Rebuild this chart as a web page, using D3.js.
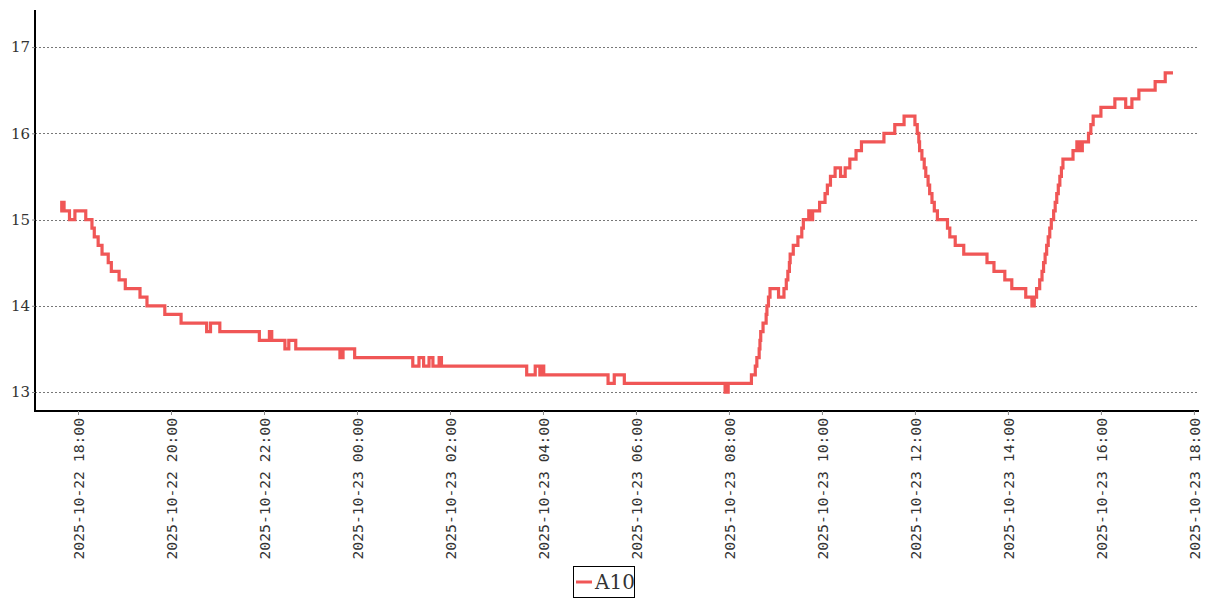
<!DOCTYPE html>
<html><head><meta charset="utf-8">
<script src="https://cdn.jsdelivr.net/npm/d3@7"></script>
<style>body{margin:0;background:#fff}svg{display:block}</style>
</head><body><svg id="c" width="1207" height="600"></svg>
<script>
const seriesName = "A10";
const times = ["2025-10-22 17:37","2025-10-22 17:39","2025-10-22 17:42","2025-10-22 17:49","2025-10-22 17:56","2025-10-22 18:10","2025-10-22 18:18","2025-10-22 18:21","2025-10-22 18:26","2025-10-22 18:31","2025-10-22 18:39","2025-10-22 18:43","2025-10-22 18:53","2025-10-22 19:01","2025-10-22 19:20","2025-10-22 19:29","2025-10-22 19:52","2025-10-22 20:13","2025-10-22 20:46","2025-10-22 20:51","2025-10-22 21:03","2025-10-22 21:54","2025-10-22 22:07","2025-10-22 22:10","2025-10-22 22:27","2025-10-22 22:32","2025-10-22 22:41","2025-10-22 23:38","2025-10-22 23:42","2025-10-22 23:57","2025-10-23 01:12","2025-10-23 01:20","2025-10-23 01:26","2025-10-23 01:33","2025-10-23 01:38","2025-10-23 01:46","2025-10-23 01:49","2025-10-23 03:39","2025-10-23 03:50","2025-10-23 03:56","2025-10-23 03:59","2025-10-23 04:01","2025-10-23 05:24","2025-10-23 05:32","2025-10-23 05:45","2025-10-23 07:55","2025-10-23 07:59","2025-10-23 08:29","2025-10-23 08:34","2025-10-23 08:36","2025-10-23 08:39","2025-10-23 08:40","2025-10-23 08:41","2025-10-23 08:44","2025-10-23 08:48","2025-10-23 08:49","2025-10-23 08:51","2025-10-23 08:53","2025-10-23 09:04","2025-10-23 09:11","2025-10-23 09:14","2025-10-23 09:16","2025-10-23 09:18","2025-10-23 09:19","2025-10-23 09:23","2025-10-23 09:29","2025-10-23 09:34","2025-10-23 09:36","2025-10-23 09:43","2025-10-23 09:45","2025-10-23 09:48","2025-10-23 09:57","2025-10-23 10:04","2025-10-23 10:07","2025-10-23 10:11","2025-10-23 10:17","2025-10-23 10:24","2025-10-23 10:30","2025-10-23 10:36","2025-10-23 10:44","2025-10-23 10:51","2025-10-23 11:20","2025-10-23 11:34","2025-10-23 11:46","2025-10-23 12:00","2025-10-23 12:03","2025-10-23 12:05","2025-10-23 12:06","2025-10-23 12:09","2025-10-23 12:12","2025-10-23 12:14","2025-10-23 12:17","2025-10-23 12:19","2025-10-23 12:22","2025-10-23 12:25","2025-10-23 12:29","2025-10-23 12:42","2025-10-23 12:45","2025-10-23 12:52","2025-10-23 13:03","2025-10-23 13:33","2025-10-23 13:42","2025-10-23 13:56","2025-10-23 14:05","2025-10-23 14:23","2025-10-23 14:31","2025-10-23 14:34","2025-10-23 14:37","2025-10-23 14:41","2025-10-23 14:44","2025-10-23 14:46","2025-10-23 14:48","2025-10-23 14:50","2025-10-23 14:52","2025-10-23 14:54","2025-10-23 14:56","2025-10-23 14:59","2025-10-23 15:01","2025-10-23 15:03","2025-10-23 15:05","2025-10-23 15:07","2025-10-23 15:09","2025-10-23 15:11","2025-10-23 15:24","2025-10-23 15:29","2025-10-23 15:32","2025-10-23 15:36","2025-10-23 15:44","2025-10-23 15:47","2025-10-23 15:50","2025-10-23 16:00","2025-10-23 16:18","2025-10-23 16:32","2025-10-23 16:40","2025-10-23 16:49","2025-10-23 17:10","2025-10-23 17:23","2025-10-23 17:33"];
const values = [15.1,15.2,15.1,15.0,15.1,15.0,14.9,14.8,14.7,14.6,14.5,14.4,14.3,14.2,14.1,14.0,13.9,13.8,13.7,13.8,13.7,13.6,13.7,13.6,13.5,13.6,13.5,13.4,13.5,13.4,13.3,13.4,13.3,13.4,13.3,13.4,13.3,13.2,13.3,13.2,13.3,13.2,13.1,13.2,13.1,13.0,13.1,13.2,13.3,13.4,13.5,13.6,13.7,13.8,13.9,14.0,14.1,14.2,14.1,14.2,14.3,14.4,14.5,14.6,14.7,14.8,14.9,15.0,15.1,15.0,15.1,15.2,15.3,15.4,15.5,15.6,15.5,15.6,15.7,15.8,15.9,16.0,16.1,16.2,16.1,16.0,15.9,15.8,15.7,15.6,15.5,15.4,15.3,15.2,15.1,15.0,14.9,14.8,14.7,14.6,14.5,14.4,14.3,14.2,14.1,14.0,14.1,14.2,14.3,14.4,14.5,14.6,14.7,14.8,14.9,15.0,15.1,15.2,15.3,15.4,15.5,15.6,15.7,15.8,15.9,15.8,15.9,16.0,16.1,16.2,16.3,16.4,16.3,16.4,16.5,16.6,16.7,16.7];
const yTicks = [13,14,15,16,17];
const xTicks = ["2025-10-22 18:00","2025-10-22 20:00","2025-10-22 22:00","2025-10-23 00:00","2025-10-23 02:00","2025-10-23 04:00","2025-10-23 06:00","2025-10-23 08:00","2025-10-23 10:00","2025-10-23 12:00","2025-10-23 14:00","2025-10-23 16:00","2025-10-23 18:00"];
const xDomain = ["2025-10-22 17:04:30","2025-10-23 18:04:00"];
const yDomain = [12.78, 17.43];

const parse = d3.timeParse("%Y-%m-%d %H:%M");
const parseS = d3.timeParse("%Y-%m-%d %H:%M:%S");
const data = times.map((t,i)=>({t:parse(t), v:values[i]}));
const svg = d3.select("#c");
const L=35, R=1197, T=10, B=411;
const x = d3.scaleTime().domain(xDomain.map(d=>parseS(d.length>16?d:d+":00"))).range([L,R]);
const y = d3.scaleLinear().domain(yDomain).range([B,T]);

// grid
svg.append("g").selectAll("line").data(yTicks).join("line")
  .attr("x1",L).attr("x2",R).attr("y1",d=>Math.round(y(d))+0.5).attr("y2",d=>Math.round(y(d))+0.5)
  .attr("stroke","#777").attr("stroke-dasharray","2,2").attr("stroke-width",1);

// line
const line = d3.line().x(d=>x(d.t)).y(d=>y(d.v)).curve(d3.curveStepAfter);
svg.append("path").datum(data).attr("d",line).attr("fill","none")
  .attr("stroke","#f05656").attr("stroke-width",3.2).attr("stroke-linejoin","miter");

// y axis
const ya = svg.append("g").attr("transform",`translate(${L},0)`)
  .call(d3.axisLeft(y).tickValues(yTicks).tickSize(3).tickFormat(d3.format("d")));
ya.select(".domain").attr("stroke","#000").attr("stroke-width",2).attr("d",`M0,${T}V${B+1}`);
ya.selectAll(".tick line").attr("stroke","#888");
ya.selectAll("text").attr("font-family","DejaVu Serif").attr("font-size",15).attr("fill","#333").attr("x",-5);

// x axis
const xa = svg.append("g").attr("transform",`translate(0,${B})`)
  .call(d3.axisBottom(x).tickValues(xTicks.map(parse)).tickSize(4).tickFormat(d3.timeFormat("%Y-%m-%d %H:%M")));
xa.select(".domain").attr("stroke","#000").attr("stroke-width",2).attr("d",`M${L},0H${R+2}`);
xa.selectAll(".tick line").attr("stroke","#888");
xa.selectAll("text").attr("font-family","DejaVu Sans Mono").attr("font-size",14.7).attr("fill","#333")
  .attr("transform","rotate(-90)").attr("text-anchor","end").attr("x",-7).attr("y",0).attr("dy","0.35em");

// legend
const lg = svg.append("g");
lg.append("rect").attr("x",573.5).attr("y",566.5).attr("width",61).attr("height",31).attr("fill","#fff").attr("stroke","#000");
lg.append("line").attr("x1",576).attr("x2",592).attr("y1",582).attr("y2",582).attr("stroke","#f05656").attr("stroke-width",3);
lg.append("text").attr("x",595).attr("y",589).attr("font-family","DejaVu Serif").attr("font-size",20).attr("fill","#333").text(seriesName);
</script></body></html>
